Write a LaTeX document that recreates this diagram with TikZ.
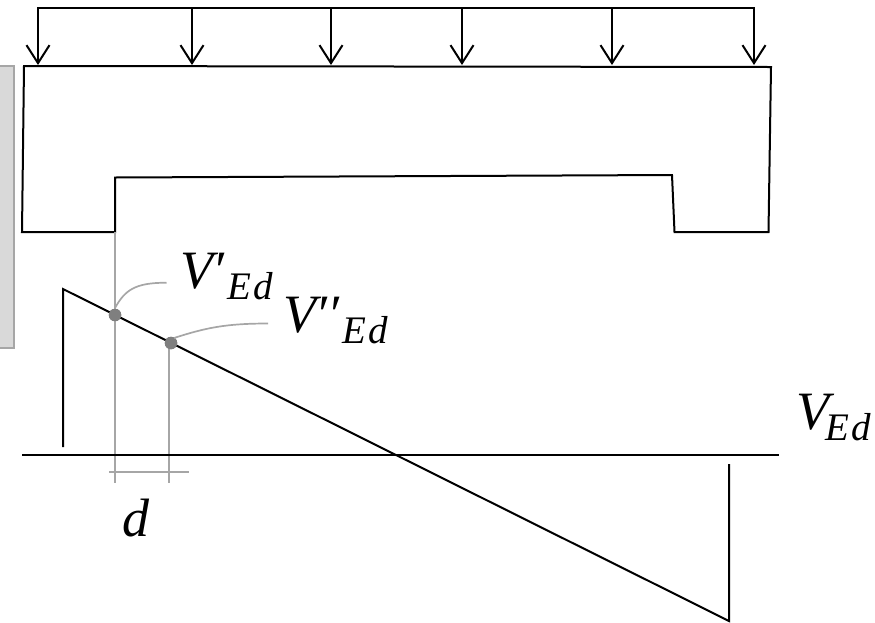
\documentclass[tikz,border=0pt]{standalone}
\usepackage{fontspec}
\setmainfont{Liberation Serif}
\usetikzlibrary{arrows.meta}
\definecolor{lightline}{HTML}{A6A6A6}
\definecolor{dotgrey}{HTML}{7F7F7F}
\definecolor{panel}{HTML}{D9D9D9}
\newcommand{\biglabel}[2]{{\fontsize{54}{54}\selectfont\itshape #1\kern#2pt\raisebox{-11pt}{\fontsize{39}{39}\selectfont E\kern2pt d}}}
\tikzset{
  ink/.style={draw=black,line width=2pt,line join=miter},
  guide/.style={draw=lightline,line width=1.7pt},
  load/.style={ink,-{Straight Barb[length=18pt,width=23pt,line width=2pt]}},
  pick/.style={circle,fill=dotgrey,minimum size=12.5pt,inner sep=0pt},
  mathlabel/.style={anchor=base west,inner sep=0pt,outer sep=0pt}
}
\begin{document}
\begin{tikzpicture}[x=1pt,y=-1pt]
\useasboundingbox (0,0) rectangle (875,622);
% side panel
\draw[fill=panel,draw=lightline,line width=1.7pt] (-5,66) -- (14,66) -- (14,348) -- (-5,348) -- cycle;
% load line
\coordinate (l1) at (38,8); \coordinate (l2) at (192,8); \coordinate (l3) at (331,8);
\coordinate (l4) at (462,8); \coordinate (l5) at (612,8); \coordinate (l6) at (754,8);
\coordinate (t1) at (38,65); \coordinate (t2) at (192,65); \coordinate (t3) at (331,65);
\coordinate (t4) at (462,65); \coordinate (t5) at (612,65); \coordinate (t6) at (754,65);
\draw[ink,line cap=rect] (l1) -- (l6);
\foreach \i in {1,...,6} \draw[load] (l\i) -- (t\i);
% beam
\coordinate (b1) at (24,66); \coordinate (b2) at (771,67); \coordinate (b3) at (768.5,232);
\coordinate (b4) at (674.5,232); \coordinate (b5) at (672,175); \coordinate (b6) at (115,177.5);
\coordinate (b7) at (115,232); \coordinate (b8) at (22,232);
\draw[ink] (b1) -- (b2) -- (b3) -- (b4) -- (b5) -- (b6) -- (b7) -- (b8) -- cycle;
% guides
\node[pick] (p1) at (115,315) {};
\node[pick] (p2) at (171,343) {};
\coordinate (g1b) at (115,483); \coordinate (g2t) at (169,343); \coordinate (g2b) at (169,483);
\coordinate (dl) at (109,472); \coordinate (dr) at (189,472);
\draw[guide] (b7) -- (g1b);
\draw[guide] (g2t) -- (g2b);
\draw[guide] (dl) -- (dr);
% shear diagram
\coordinate (s1) at (63,447); \coordinate (s2) at (63,289);
\coordinate (s3) at (729,621); \coordinate (s4) at (729,464);
\draw[ink] (s1) -- (s2) -- (s3) -- (s4);
\coordinate (a1) at (22,455); \coordinate (a2) at (779,455);
\draw[draw=black,line width=2.6pt] (a1) -- (a2);
\node[pick] at (p1) {};
\node[pick] at (p2) {};
% leaders
\coordinate (c1) at (166.5,282.7); \coordinate (c2) at (268,323.5);
\draw[guide] (p1.center) ++(0,-7) .. controls (125,290) and (135,282.7) .. (c1);
\draw[guide] (p2.center) ++(3,-5) .. controls (205,328) and (225,323.5) .. (c2);
% labels
\node[mathlabel] (v1) at (180,288) {\biglabel{V′}{3}};
\node[mathlabel] (v2) at (283,332) {\biglabel{V′′}{3}};
\node[mathlabel] (v3) at (796,429) {\biglabel{V}{-3}};
\node[mathlabel] (d) at (122,536) {\fontsize{54}{54}\selectfont\itshape d};
\end{tikzpicture}
\end{document}
